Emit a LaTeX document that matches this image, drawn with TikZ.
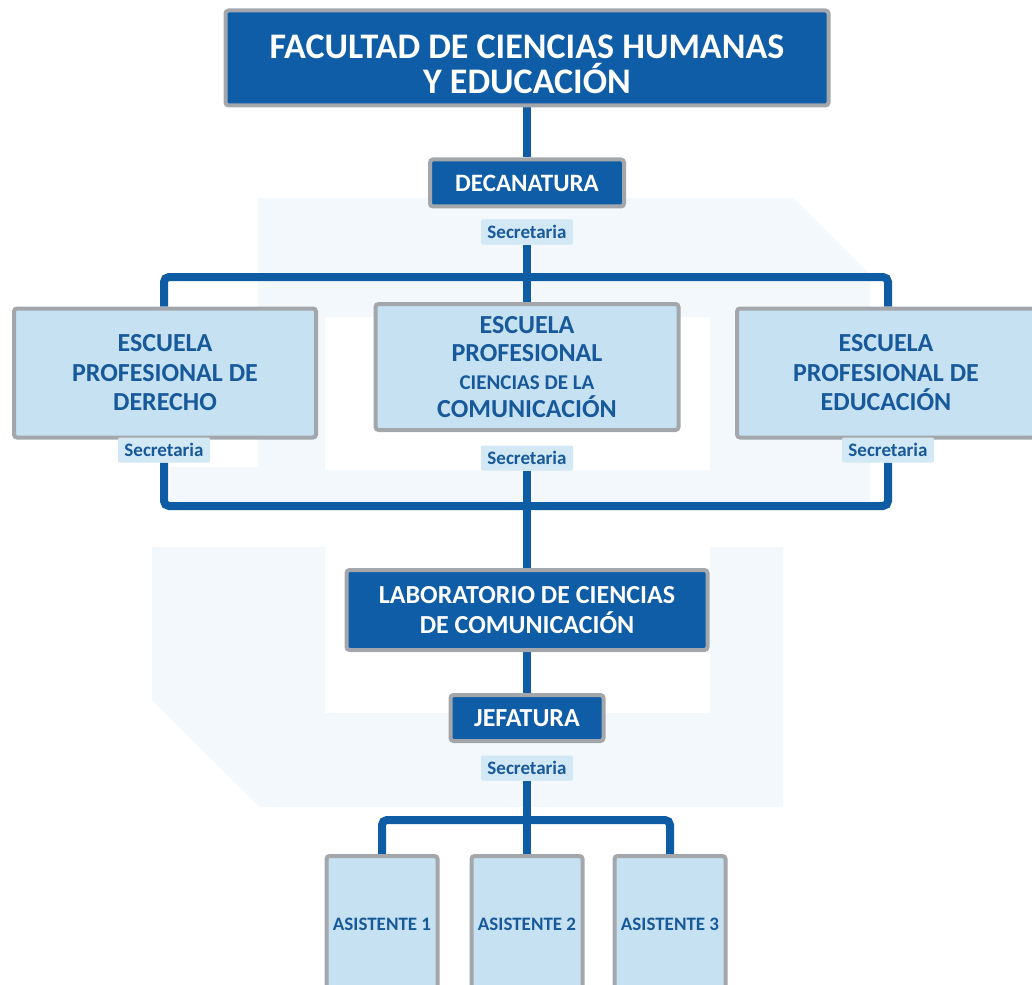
\documentclass[tikz,border=0pt]{standalone}
\usepackage{fontspec}
\setmainfont{Carlito}
\usetikzlibrary{backgrounds}
\definecolor{dblue}{HTML}{0F5DA6}
\definecolor{lineblue}{HTML}{0D5CA4}
\definecolor{lblue}{HTML}{C5E1F2}
\definecolor{tblue}{HTML}{17599A}
\definecolor{secfill}{HTML}{D2E8F5}
\definecolor{boxgray}{HTML}{A3A7AB}
\definecolor{wmark}{HTML}{F2F8FC}
\begin{document}
\begin{tikzpicture}[x=1pt,y=-1pt,
  dkbox/.style={draw=boxgray, line width=4pt, fill=dblue, text=white, rounded corners=3pt, inner sep=0pt, align=center},
  ltbox/.style={draw=boxgray, line width=4pt, fill=lblue, text=tblue, rounded corners=3pt, inner sep=0pt, align=center},
  secbox/.style={fill=secfill, text=tblue, rounded corners=2pt, inner sep=0pt, minimum width=92pt, minimum height=25pt, font=\bfseries\fontsize{19}{20}\selectfont},
  conn/.style={draw=lineblue, line width=8pt, rounded corners=5pt},
  wm/.style={fill=wmark, draw=none}]
\useasboundingbox (0,0) rectangle (1032,984);
% nodes
\node[dkbox, minimum width=603pt, minimum height=95pt, font=\bfseries\fontsize{36}{35}\selectfont] (title) at (527,58) {\rule{0pt}{36pt}FACULTAD DE CIENCIAS HUMANAS\\Y EDUCACI\smash{Ó}N};
\node[dkbox, minimum width=194pt, minimum height=47pt, font=\bfseries\fontsize{25}{26}\selectfont] (dec) at (527,183) {DECANATURA};
\node[secbox] (sec1) at (527,232) {Secretaria};
\node[ltbox, minimum width=302pt, minimum height=129pt, font=\bfseries\fontsize{26}{29.5}\selectfont] (left) at (165,373) {ESCUELA\\PROFESIONAL DE\\DERECHO};
\node[ltbox, minimum width=303pt, minimum height=126pt, font=\bfseries\fontsize{26}{28}\selectfont] (mid) at (527,367) {ESCUELA\\PROFESIONAL\\{\fontsize{21}{28}\selectfont CIENCIAS DE LA}\\COMUNICACI\smash{Ó}N};
\node[ltbox, minimum width=298pt, minimum height=129pt, font=\bfseries\fontsize{26}{29.5}\selectfont] (right) at (886,373) {ESCUELA\\PROFESIONAL DE\\EDUCACI\smash{Ó}N};
\node[secbox] (secL) at (164,450) {Secretaria};
\node[secbox] (secM) at (527,458) {Secretaria};
\node[secbox] (secR) at (888,450) {Secretaria};
\node[dkbox, minimum width=361pt, minimum height=80pt, font=\bfseries\fontsize{26}{30}\selectfont] (lab) at (527,610) {LABORATORIO DE CIENCIAS\\DE COMUNICACI\smash{Ó}N};
\node[dkbox, minimum width=153pt, minimum height=46pt, font=\bfseries\fontsize{26}{27}\selectfont] (jef) at (527,718) {JEFATURA};
\node[secbox] (secJ) at (527,768) {Secretaria};
\node[ltbox, minimum width=111pt, minimum height=150pt] (a1) at (382,931) {};
\node[ltbox, minimum width=111pt, minimum height=150pt] (a2) at (527,931) {};
\node[ltbox, minimum width=111pt, minimum height=150pt] (a3) at (670,931) {};
\node[text=tblue, font=\bfseries\fontsize{19}{20}\selectfont] (t1) at (382,924) {ASISTENTE 1};
\node[text=tblue, font=\bfseries\fontsize{19}{20}\selectfont] (t2) at (527,924) {ASISTENTE 2};
\node[text=tblue, font=\bfseries\fontsize{19}{20}\selectfont] (t3) at (670,924) {ASISTENTE 3};
\coordinate (b1) at (527,277);
\coordinate (b2) at (527,506);
\coordinate (b3) at (527,820);
\begin{pgfonlayer}{background}
  % watermark
  \path[wm, even odd rule] (258,198) -- (793,198) -- (870,275) -- (870,505) -- (170,505) -- (170,467) -- (258,467) -- cycle
     (325,317) rectangle (710,470);
  \path[wm] (152,547) -- (325,547) -- (325,713) -- (710,713) -- (710,547) -- (783,547) -- (783,807) -- (260,807) -- (152,700) -- cycle;
  % connectors
  \draw[conn] (title) -- (dec);
  \draw[conn] (sec1) -- (b1);
  \draw[conn] (left.north -| secL) |- (b1) -| (right.north -| secR);
  \draw[conn] (b1) -- (mid);
  \draw[conn] (secL) |- (b2) -| (secR);
  \draw[conn] (secM) -- (b2);
  \draw[conn] (b2) -- (lab);
  \draw[conn] (lab) -- (jef);
  \draw[conn] (secJ) -- (b3);
  \draw[conn] (a1) |- (b3) -| (a3);
  \draw[conn] (b3) -- (a2);
\end{pgfonlayer}
\end{tikzpicture}
\end{document}
